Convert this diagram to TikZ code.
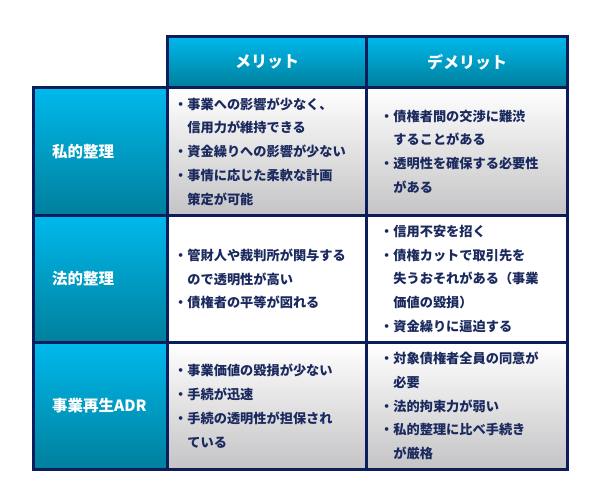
\documentclass[tikz,border=0pt]{standalone}
\usepackage{fontspec}
\newfontfamily\jp{Noto Sans CJK JP}
\definecolor{navy}{HTML}{0B1E5B}
\definecolor{cyantop}{HTML}{00B9EC}
\definecolor{tealbot}{HTML}{007F9C}
\definecolor{graybot}{HTML}{C4C4C6}
\definecolor{inkblue}{HTML}{1B2A5E}
\tikzset{
  cell/.style={draw=navy, line width=3pt, inner sep=0pt, anchor=north west},
  hdrcell/.style={cell, minimum height=51pt, top color=cyantop, bottom color=tealbot,
    text=white, font=\jp\bfseries\fontsize{16}{16}\selectfont},
  sidecell/.style={cell, minimum width=134pt, top color=cyantop, bottom color=tealbot},
  shadecell/.style={cell, top color=white, bottom color=graybot},
  plaincell/.style={cell, fill=white},
  sidetxt/.style={anchor=west, inner sep=0pt, text=white,
    font=\jp\bfseries\fontsize{15.5}{15.5}\selectfont},
  bodytxt/.style={anchor=west, inner sep=0pt, align=left, text=inkblue,
    font=\jp\bfseries\fontsize{13.2}{23.8}\selectfont}
}
\newcommand\hang{\phantom{・}}
\begin{document}
\begin{tikzpicture}[x=1pt,y=-1pt]
  \useasboundingbox (0,0) rectangle (600,500);
  \node[hdrcell, minimum width=199pt] (hm) at (166,35) {メリット};
  \node[hdrcell, minimum width=201pt] (hd) at (365,35) {デメリット};
  \node[sidecell, minimum height=128pt] (s1) at (32,86) {};
  \node[sidecell, minimum height=127pt] (s2) at (32,214) {};
  \node[sidecell, minimum height=127pt] (s3) at (32,341) {};
  \node[shadecell, minimum width=199pt, minimum height=128pt] (m1) at (166,86) {};
  \node[shadecell, minimum width=201pt, minimum height=128pt] (d1) at (365,86) {};
  \node[plaincell, minimum width=199pt, minimum height=127pt] (m2) at (166,214) {};
  \node[plaincell, minimum width=201pt, minimum height=127pt] (d2) at (365,214) {};
  \node[shadecell, minimum width=199pt, minimum height=127pt] (m3) at (166,341) {};
  \node[shadecell, minimum width=201pt, minimum height=127pt] (d3) at (365,341) {};
  \node[sidetxt] (s1t) at ([xshift=20pt]s1.west) {私的整理};
  \node[sidetxt] (s2t) at ([xshift=20pt]s2.west) {法的整理};
  \node[sidetxt] (s3t) at ([xshift=20pt]s3.west) {事業再生ADR};
  \node[bodytxt] (m1t) at ([xshift=8pt]m1.west)
    {・事業への影響が少なく、\\\hang 信用力が維持できる\\・資金繰りへの影響が少ない\\・事情に応じた柔軟な計画\\\hang 策定が可能};
  \node[bodytxt] (d1t) at ([xshift=15pt]d1.west)
    {・債権者間の交渉に難渋\\\hang することがある\\・透明性を確保する必要性\\\hang がある};
  \node[bodytxt] (m2t) at ([xshift=8pt]m2.west)
    {・管財人や裁判所が関与する\\\hang ので透明性が高い\\・債権者の平等が図れる};
  \node[bodytxt] (d2t) at ([xshift=15pt]d2.west)
    {・信用不安を招く\\・債権カットで取引先を\\\hang 失うおそれがある（事業\\\hang 価値の毀損）\\・資金繰りに逼迫する};
  \node[bodytxt] (m3t) at ([xshift=8pt]m3.west)
    {・事業価値の毀損が少ない\\・手続が迅速\\・手続の透明性が担保され\\\hang ている};
  \node[bodytxt] (d3t) at ([xshift=15pt]d3.west)
    {・対象債権者全員の同意が\\\hang 必要\\・法的拘束力が弱い\\・私的整理に比べ手続き\\\hang が厳格};
\end{tikzpicture}
\end{document}
